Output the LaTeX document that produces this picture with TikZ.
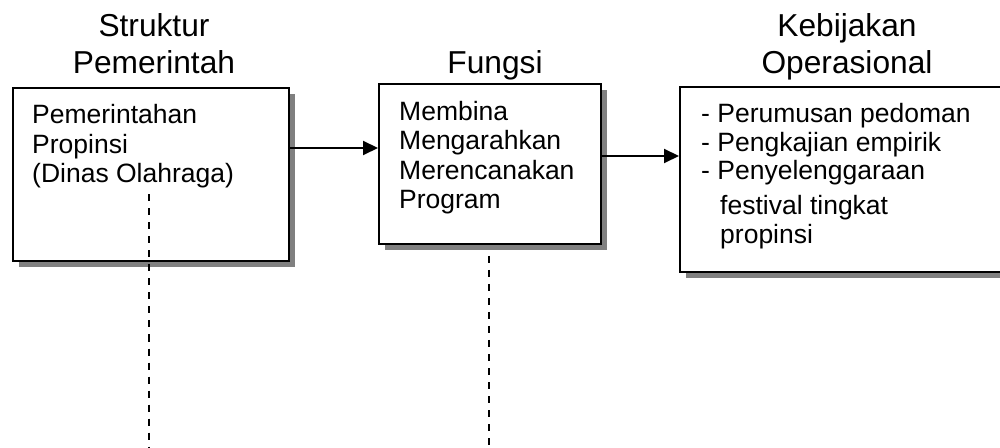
\documentclass[tikz,border=0pt]{standalone}
\usepackage{fontspec}
\setmainfont{Liberation Sans}
\usetikzlibrary{arrows.meta,shadows}
\tikzset{
  box/.style={draw,line width=2pt,fill=white,inner sep=0pt,
    drop shadow={shadow xshift=6pt,shadow yshift=-6pt,fill=black!50,opacity=1}},
  title/.style={align=center,inner sep=0pt,font=\fontsize{31.7}{37}\selectfont},
  body/.style={align=left,inner sep=0pt,font=\fontsize{26.5}{29.5}\selectfont},
  conn/.style={line width=2pt,-{Triangle[length=15pt,width=14pt]}},
  guide/.style={line width=2pt,dash pattern=on 7pt off 7pt}
}
\begin{document}
\begin{tikzpicture}[x=1pt,y=1pt,line join=miter]
  \useasboundingbox (0,0) rectangle (1000,447);
  \node[box,minimum width=276pt,minimum height=173pt] (pemda) at (151,272.5) {};
  \node[box,minimum width=222pt,minimum height=160pt] (fungsi) at (490,283) {};
  \node[box,minimum width=330pt,minimum height=185pt] (kebijakan) at (845,267.5) {};
  \node[title,anchor=base] (judulA) at ([xshift=3pt,yshift=13pt]pemda.north) {Struktur\\Pemerintah};
  \node[title,anchor=base] (judulB) at ([xshift=5pt,yshift=9pt]fungsi.north) {Fungsi};
  \node[title,anchor=base] (judulC) at ([xshift=2pt,yshift=12pt]kebijakan.north) {Kebijakan\\Operasional};
  \node[body,anchor=base west] (isiA) at ([xshift=20pt,yshift=-96pt]pemda.north west)
    {Pemerintahan\\Propinsi\\(Dinas Olahraga)};
  \node[body,anchor=base west] (isiB) at ([xshift=21pt,yshift=-126pt]fungsi.north west)
    {Membina\\Mengarahkan\\Merencanakan\\Program};
  \node[body,anchor=base west,font=\fontsize{26.5}{28.5}\selectfont] (isiC) at ([xshift=22pt,yshift=-157.5pt]kebijakan.north west)
    {- Perumusan pedoman\\- Pengkajian empirik\\- Penyelenggaraan\\[6.5pt]\hspace*{19pt}festival tingkat\\\hspace*{19pt}propinsi};
  \coordinate (a1) at ([yshift=26.5pt]pemda.east);
  \coordinate (a2) at ([yshift=8pt]fungsi.east);
  \draw[conn] (a1) -- (a1 -| fungsi.west);
  \draw[conn] (a2) -- (a2 -| kebijakan.west);
  \coordinate (d1) at ([xshift=-2pt,yshift=-20pt]pemda.center);
  \coordinate (d1end) at (149,0);
  \coordinate (d2) at ([xshift=-1pt,yshift=-11pt]fungsi.south);
  \coordinate (d2end) at (489,0);
  \draw[guide] (d1) -- (d1end);
  \draw[guide] (d2) -- (d2end);
\end{tikzpicture}
\end{document}
